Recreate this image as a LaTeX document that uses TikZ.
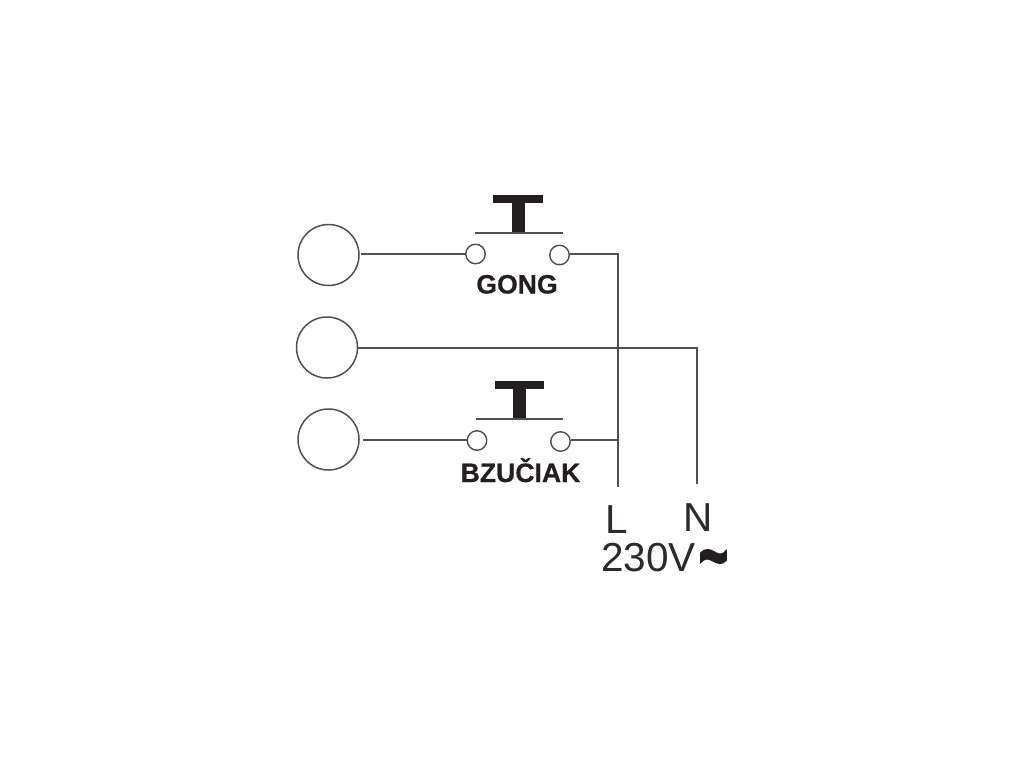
\documentclass[tikz,border=0pt]{standalone}
\usepackage{fontspec}
\setmainfont{Liberation Sans}
\newfontfamily\swfont[FakeBold=0.6]{Liberation Sans Bold}
\newfontfamily\tildefont[FakeBold=3]{Liberation Sans Bold}
\definecolor{ink}{HTML}{505050}
\definecolor{blk}{HTML}{231F20}
\tikzset{
  wire/.style={draw=ink,line width=1.6pt},
  lamp/.style={circle,draw=ink,line width=1.5pt,minimum size=61pt,inner sep=0pt},
  term/.style={circle,draw=ink,line width=1.4pt,minimum size=19.5pt,inner sep=0pt},
  swlabel/.style={font=\swfont\fontsize{26.6}{26.6}\selectfont,text=blk,inner sep=0pt,anchor=base},
  mainslabel/.style={font=\fontsize{40.5}{40.5}\selectfont,text=blk!95!white,inner sep=0pt,anchor=base},
  tee/.style={fill=blk,draw=none}
}
\begin{document}
\begin{tikzpicture}[x=1pt,y=-1pt]
\useasboundingbox[fill=white] (0,0) rectangle (1024,768);
% lamps
\node[lamp] (lampA) at (328.5,255) {};
\node[lamp] (lampB) at (327,347.5) {};
\node[lamp] (lampC) at (328.5,439.5) {};
% terminals
\node[term] (aL) at (475.5,254) {};
\node[term] (aR) at (559.5,255) {};
\node[term] (cL) at (477,440.5) {};
\node[term] (cR) at (560.5,441.5) {};
% junction and free-end coordinates
\coordinate (jA) at (618,254);
\coordinate (jB) at (618,440);
\coordinate (endL) at (618,487);
\coordinate (cornerN) at (697,348);
\coordinate (startA) at (361,254);
\coordinate (startB) at (357,348);
\coordinate (startC) at (363,440);
\coordinate (endN) at (697,484);
% wires
\draw[wire] (startA) -- (aL.west |- startA);
\draw[wire] (aR.east |- jA) -- (jA) -- (endL);
\draw[wire] (startB) -- (cornerN) -- (endN);
\draw[wire] (startC) -- (cL.west |- startC);
\draw[wire] (cR.east |- jB) -- (jB);
% push buttons
\fill[tee] (493,195) rectangle (543,202.5);
\fill[tee] (512,195) rectangle (524.5,233);
\draw[wire] (475,232.7) -- (562.5,232.7);
\fill[tee] (495,381) rectangle (544,388.5);
\fill[tee] (513,381) rectangle (525.5,419);
\draw[wire] (476,419) -- (563,419);
% labels
\node[swlabel] (gong) at (517,293.5) {GONG};
\node[swlabel] (bzu) at (520.5,482) {BZUČIAK};
\node[mainslabel] (lL) at (616.5,533) {L};
\node[mainslabel] (lN) at (698,531) {N};
\node[mainslabel] (lV) at (648.5,571.5) {230V};
\node[inner sep=0pt,anchor=base,text=blk,font=\tildefont\fontsize{50}{50}\selectfont] (lT) at (713.5,583) {\smash{\scalebox{1}[1.6]{\char"007E}}};
\end{tikzpicture}
\end{document}
